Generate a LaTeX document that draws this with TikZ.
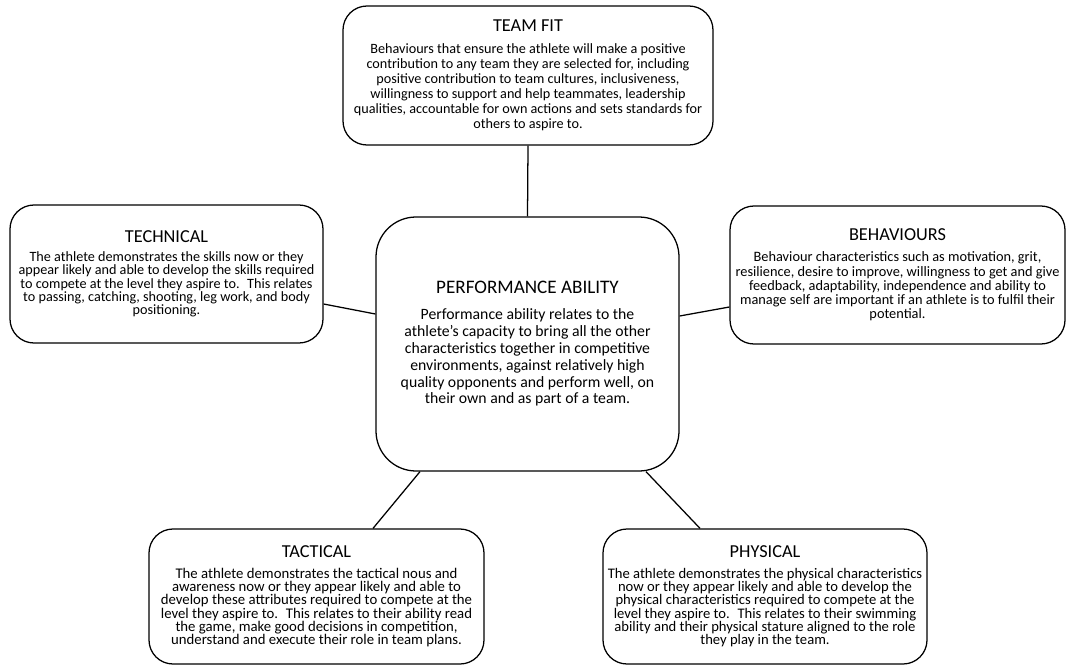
\documentclass[tikz,border=0pt]{standalone}
\usepackage{fontspec}
\setmainfont{Carlito}
\usepackage{tikz}
\usetikzlibrary{positioning}

\newcommand{\areatitle}[1]{{\fontsize{13}{15}\selectfont #1}}
\newcommand{\areafont}[2]{\fontsize{#1}{#2}\selectfont\lineskiplimit=-20pt\lineskip=0pt}

\begin{document}
\begin{tikzpicture}[
    area/.style={draw, line width=0.9pt, rounded corners=0.6cm, align=center, inner sep=0pt},
    link/.style={line width=0.9pt}]
        \useasboundingbox (0,0) rectangle (26.65,-16.625);
        % outer areas
        \node[area, minimum width=9.25cm, minimum height=3.475cm,
          font=\areafont{10.1}{10.6}] (teamfit) at (13.2,-1.8875)
          {\areatitle{TEAM FIT}\\[5pt]
           Behaviours that ensure the athlete will make a positive\\
           contribution to any team they are selected for, including\\
           positive contribution to team cultures, inclusiveness,\\
           willingness to support and help teammates, leadership\\
           qualities, accountable for own actions and sets standards for\\
           others to aspire to.};
        \node[area, minimum width=7.825cm, minimum height=3.45cm,
          font=\areafont{10.1}{9.4}] (technical) at (4.1625,-6.85)
          {\areatitle{TECHNICAL}\\[4pt]
           The athlete demonstrates the skills now or they\\
           appear likely and able to develop the skills required\\
           to compete at the level they aspire to.~ This relates\\
           to passing, catching, shooting, leg work, and body\\
           positioning.};
        \node[area, minimum width=8.375cm, minimum height=3.45cm,
          font=\areafont{10.2}{10.1}] (behaviours) at (22.4375,-6.875)
          {\areatitle{BEHAVIOURS}\\[5pt]
           Behaviour characteristics such as motivation, grit,\\
           resilience, desire to improve, willingness to get and give\\
           feedback, adaptability, independence and ability to\\
           manage self are important if an athlete is to fulfil their\\
           potential.};
        \node[area, minimum width=8.375cm, minimum height=3.375cm,
          font=\areafont{10.5}{9.5}] (tactical) at (7.9125,-14.9125)
          {\areatitle{TACTICAL}\\[5pt]
           The athlete demonstrates the tactical nous and\\
           awareness now or they appear likely and able to\\
           develop these attributes required to compete at the\\
           level they aspire to.~ This relates to their ability read\\
           the game, make good decisions in competition,\\
           understand and execute their role in team plans.};
        \node[area, minimum width=8.1cm, minimum height=3.375cm,
          font=\areafont{10.4}{9.5}] (physical) at (19.125,-14.9125)
          {\areatitle{PHYSICAL}\\[5pt]
           The athlete demonstrates the physical characteristics\\
           now or they appear likely and able to develop the\\
           physical characteristics required to compete at the\\
           level they aspire to.~ This relates to their swimming\\
           ability and their physical stature aligned to the role\\
           they play in the team.};
        % centre
        \node[area, rounded corners=1cm, minimum width=7.575cm, minimum height=6.35cm,
          font=\areafont{11.2}{12.05}] (perf) at (13.1875,-8.6)
          {{\fontsize{13.6}{15}\selectfont PERFORMANCE ABILITY}\\[6pt]
           Performance ability relates to the\\
           athlete’s capacity to bring all the other\\
           characteristics together in competitive\\
           environments, against relatively high\\
           quality opponents and perform well, on\\
           their own and as part of a team.};
        % links
        \draw[link] (teamfit.south) -- (perf.north);
        \draw[link] ([yshift=-0.75cm]technical.east) -- ([yshift=0.75cm]perf.west);
        \draw[link] ([yshift=0.7cm]perf.east) -- ([yshift=-0.8cm]behaviours.west);
        \draw[link] ([xshift=-2.6875cm]perf.south) -- ([xshift=1.4125cm]tactical.north);
        \draw[link] ([xshift=2.9625cm]perf.south) -- ([xshift=-1.625cm]physical.north);
      \end{tikzpicture}
\end{document}
